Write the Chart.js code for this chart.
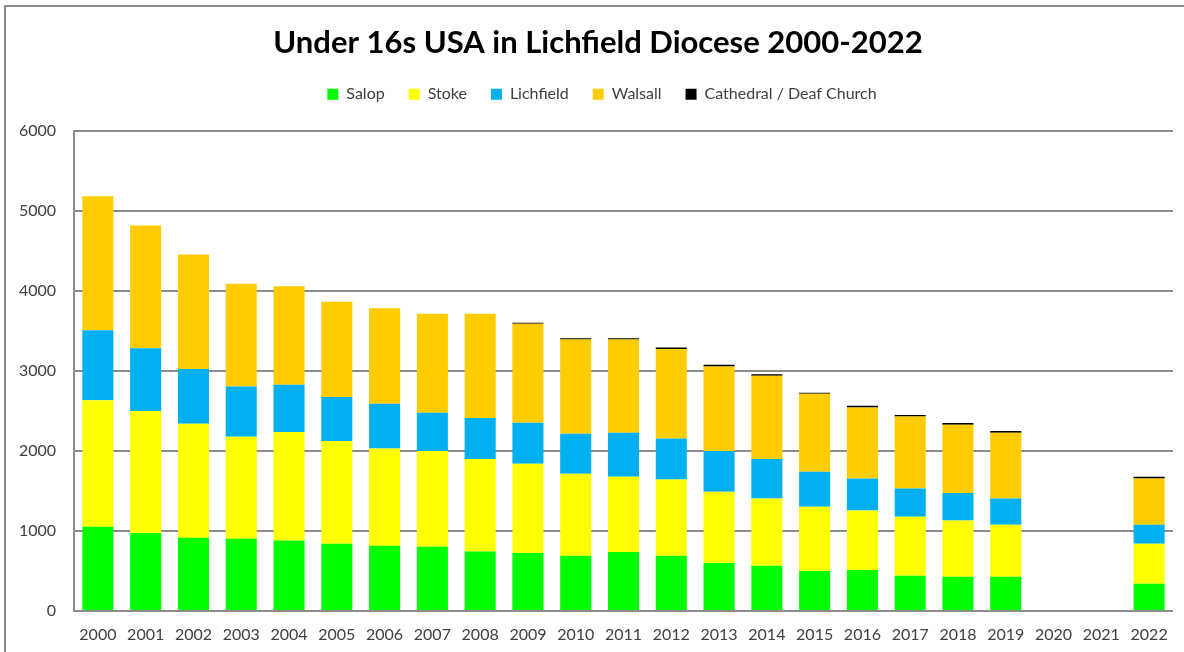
<!DOCTYPE html>
<html>
<head>
<meta charset="utf-8">
<script src="https://cdn.jsdelivr.net/npm/chart.js@4/dist/chart.umd.min.js"></script>
<style>
  html, body { margin: 0; padding: 0; background: #fff; overflow: hidden; }
  #wrap { position: absolute; left: 0; top: 0; width: 1196px; height: 652px; }
  #frame { position: absolute; left: 4px; top: 5px; width: 1300px; height: 800px;
           border: 2px solid #8a8a8a; pointer-events: none; }
</style>
</head>
<body>
<div id="wrap"><canvas id="chart" width="1196" height="652"></canvas></div>
<div id="frame"></div>
<script>
// values
const years = ['2000','2001','2002','2003','2004','2005','2006','2007','2008','2009','2010',
               '2011','2012','2013','2014','2015','2016','2017','2018','2019','2020','2021','2022'];
const salop     = [1054, 975, 916, 904, 882, 841, 816, 804, 745, 725, 691, 737, 691, 600, 566, 500, 512, 441, 429, 429, null, null, 341];
const stoke     = [1583, 1525, 1425, 1275, 1355, 1284, 1217, 1196, 1155, 1116, 1025, 942, 954, 891, 842, 804, 746, 738, 704, 650, null, null, 500];
const lichfield = [875, 787, 684, 629, 592, 550, 558, 479, 512, 513, 500, 550, 513, 509, 492, 437, 400, 354, 342, 329, null, null, 238];
const walsall   = [1675, 1533, 1432, 1283, 1233, 1191, 1196, 1237, 1304, 1237, 1179, 1166, 1117, 1058, 1041, 975, 887, 900, 854, 821, null, null, 579];
const cathedral = [0, 0, 0, 0, 0, 0, 0, 0, 0, 15, 17, 17, 20, 21, 21, 13, 21, 17, 21, 21, null, null, 21];
const yTicks = [0, 1000, 2000, 3000, 4000, 5000, 6000];

const textColor = '#404040';
const gridColor = '#8c8c8c';

function series(label, data, color) {
    return { label: label, data: data, backgroundColor: color, borderWidth: 0 };
}

// extra space under the legend, and title/legend centred on the frame
const headerTweaks = {
    id: 'headerTweaks',
    beforeInit(chart) {
        const fit = chart.legend.fit;
        chart.legend.fit = function() {
            fit.bind(chart.legend)();
            this.height += 19;
        };
    },
    afterLayout(chart) {
        chart.titleBlock.left = 23;
        chart.legend.left = 31;
    }
};

new Chart(document.getElementById('chart').getContext('2d'), {
    type: 'bar',
    data: {
        labels: years,
        datasets: [
            series('Salop', salop, '#00FF00'),
            series('Stoke', stoke, '#FFFF00'),
            series('Lichfield', lichfield, '#00B0F0'),
            series('Walsall', walsall, '#FFCC00'),
            series('Cathedral / Deaf Church', cathedral, '#000000')
        ]
    },
    options: {
        responsive: false,
        animation: false,
        datasets: { bar: { barPercentage: 0.65, categoryPercentage: 1 } },
        layout: { padding: { left: 0, right: 23, top: 0, bottom: 0 } },
        plugins: {
            title: {
                display: true,
                text: 'Under 16s USA in Lichfield Diocese 2000-2022',
                color: '#000',
                font: { family: 'Lato', size: 31, weight: 'bold', lineHeight: 1.2 },
                padding: { top: 24, bottom: 1 }
            },
            legend: {
                display: true,
                labels: {
                    color: textColor,
                    font: { family: 'Lato', size: 16 },
                    boxWidth: 11,
                    boxHeight: 11,
                    padding: 24
                }
            },
            tooltip: { enabled: false }
        },
        scales: {
            x: {
                stacked: true,
                grid: { display: false, drawTicks: false },
                border: { display: false },
                ticks: { color: textColor, font: { family: 'Lato', size: 16 }, padding: 14,
                         maxRotation: 0, autoSkip: false },
                afterFit(scale) { scale.height = 41; }
            },
            y: {
                stacked: true,
                min: 0,
                max: 6000,
                afterBuildTicks(scale) { scale.ticks = yTicks.map(v => ({ value: v })); },
                grid: { color: gridColor, lineWidth: 2, drawTicks: false },
                border: { display: true, color: gridColor, width: 2 },
                ticks: { color: textColor, font: { family: 'Lato', size: 16 }, padding: 18,
                         callback: v => String(v) },
                afterFit(scale) { scale.width = 74; }
            }
        }
    },
    plugins: [headerTweaks]
});
</script>
</body>
</html>
